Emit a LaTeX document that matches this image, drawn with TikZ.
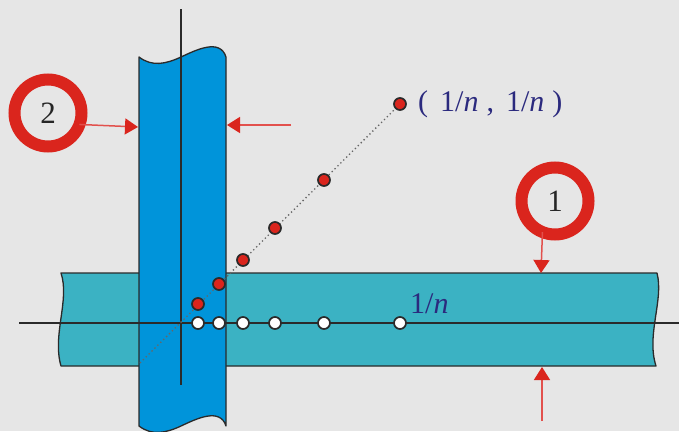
\documentclass[tikz,border=0pt]{standalone}
\usepackage{fontspec}
\setmainfont{Liberation Serif}
\usetikzlibrary{arrows.meta}
\definecolor{bg}{HTML}{E6E6E6}
\definecolor{vband}{HTML}{0094DA}
\definecolor{hband}{HTML}{3BB2C3}
\definecolor{ringred}{HTML}{DA251D}
\definecolor{arrline}{HTML}{E2514D}
\definecolor{txtblue}{HTML}{2B2A7E}
\definecolor{edgecol}{HTML}{2A2A2A}
\begin{document}
\begin{tikzpicture}[x=1pt,y=-1pt,
 bandedge/.style={draw=edgecol,line width=1.3pt,line join=round},
 axisline/.style={draw=edgecol,line width=1.2pt},
 ring/.style={circle,draw=ringred,line width=12pt,fill=bg,minimum size=67pt,inner sep=0pt,outer sep=0pt,font=\fontsize{31}{31}\selectfont,text=black!85},
 reddot/.style={circle,draw=edgecol,line width=1.7pt,fill=ringred,minimum size=12pt,inner sep=0pt},
 whitedot/.style={reddot,fill=white},
 redarrow/.style={draw=arrline,line width=1.5pt,-{Triangle[width=16pt,length=13pt,color=ringred]}},
 bluelabel/.style={text=txtblue,font=\fontsize{30}{30}\selectfont,inner sep=0pt,anchor=base west},
 diag/.style={draw=black!60,line width=1.3pt,dash pattern=on 1.3pt off 2.8pt}
]
\useasboundingbox (0,0) rectangle (679,431);
\fill[bg] (0,0) rectangle (679,431);
\clip (0,0) rectangle (679,431);

% horizontal band
\path[bandedge,fill=hband] (61,273) -- (657,273)
  .. controls (664,300) and (646,335) .. (656,366) -- (61,366)
  .. controls (52,335) and (70,300) .. cycle;

% vertical band
\path[bandedge,fill=vband] (139,57) .. controls (152,67) and (166,64) .. (181,57)
  .. controls (196,50) and (220,38) .. (226,57) -- (226,426)
  .. controls (220,407) and (196,419) .. (181,426)
  .. controls (166,433) and (152,436) .. (139,426) -- cycle;

% axes
\coordinate (vtop) at (181,9);
\coordinate (vbot) at (181,385);
\coordinate (hleft) at (19,323);
\coordinate (hright) at (679,323);
\draw[axisline] (vtop) -- (vbot);
\draw[axisline] (hleft) -- (hright);

% dots
\node[whitedot] (w1) at (198,323) {};
\node[whitedot] (w2) at (219,323) {};
\node[whitedot] (w3) at (243,323) {};
\node[whitedot] (w4) at (275,323) {};
\node[whitedot] (w5) at (324,323) {};
\node[whitedot] (w6) at (400,323) {};

\coordinate (dstart) at (140,363);
\coordinate (dend) at (400,104);
\draw[diag] (dstart) -- (dend);
\node[reddot] (r1) at (198,304) {};
\node[reddot] (r2) at (219,284) {};
\node[reddot] (r3) at (243,260) {};
\node[reddot] (r4) at (275,228) {};
\node[reddot] (r5) at (324,180) {};
\node[reddot] (r6) at (dend) {};

% rings
\node[ring] (c2) at (48,113) {2};
\node[ring] (c1) at (555,201) {1};

% arrows
\coordinate (t2l) at (138,127);
\coordinate (s2r) at (291,125);
\coordinate (t2r) at (227,125);
\coordinate (t1a) at (541,273);
\coordinate (s1b) at (542,421);
\coordinate (t1b) at (542,367);
\draw[redarrow] (c2.-20) -- (t2l);
\draw[redarrow] (s2r) -- (t2r);
\draw[redarrow] (c1.248) -- (t1a);
\draw[redarrow] (s1b) -- (t1b);

% labels
\node[bluelabel] (lab1) at (418,111) {(\hspace{12pt}1/\textit{n}\hspace{8pt},\hspace{12pt}1/\textit{n}\hspace{8pt})};
\node[bluelabel] (lab2) at (410,313) {1/\textit{n}};
\end{tikzpicture}
\end{document}
